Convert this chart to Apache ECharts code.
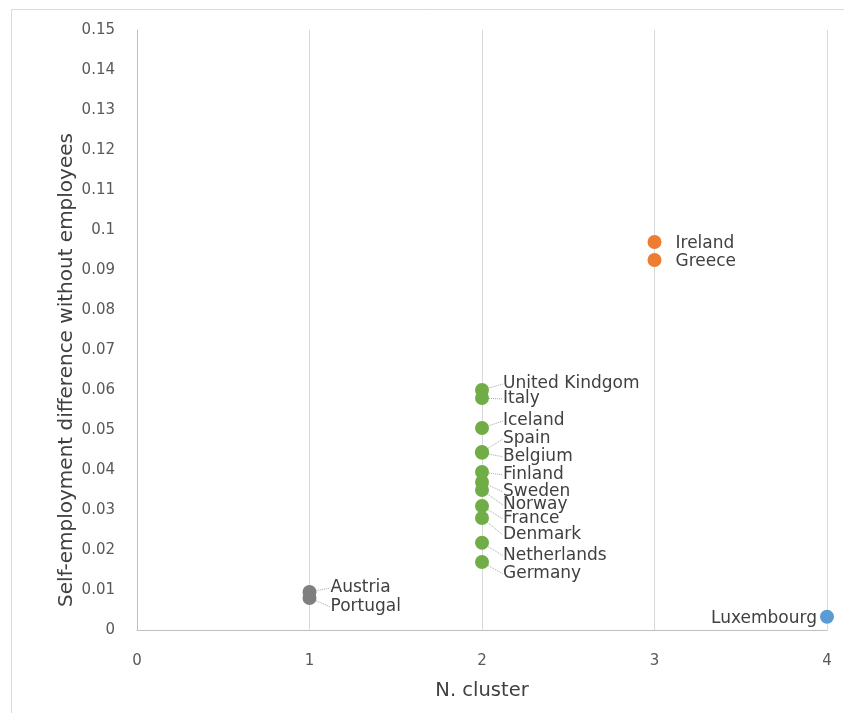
<!DOCTYPE html>
<html><head><meta charset="utf-8">
<script src="https://cdn.jsdelivr.net/npm/echarts@6/dist/echarts.min.js"></script>
<style>html,body{margin:0;padding:0;background:#fff}#c{width:844px;height:713px}</style>
</head><body><div id="c"></div>
<script>
const countries = ["Austria","Portugal","United Kindgom","Italy","Iceland","Spain","Belgium","Finland","Sweden","Norway","France","Denmark","Netherlands","Germany","Ireland","Greece","Luxembourg"];
const clusters  = [1,1,2,2,2,2,2,2,2,2,2,2,2,2,3,3,4];
const values    = [0.0095,0.008,0.060,0.058,0.0505,0.0445,0.0443,0.0395,0.037,0.035,0.031,0.028,0.0218,0.017,0.097,0.0925,0.0033];
const xTicks = [0,1,2,3,4];
const yMax = 0.15;
const xTitle = 'N. cluster';
const yTitle = 'Self-employment difference without employees';

// label vertical nudges (px), styling only
const labelNudge = {"Austria":-6,"Portugal":7,"United Kindgom":-8,"Italy":-1,"Iceland":-9,"Spain":-15,"Belgium":2,"Finland":1,"Sweden":8,"Norway":13,"France":11,"Denmark":15,"Netherlands":11,"Germany":10};
const baseNudge = 2;

const colors = {1:'#7F7F7F',2:'#70AD47',3:'#ED7D31',4:'#5B9BD5'};
const FONT = '"DejaVu Sans", "Noto Sans", sans-serif';

const series = [1,2,3,4].map(c => {
  const data = countries.map((n,i)=>({name:n, value:[clusters[i], values[i]]})).filter(d=>d.value[0]===c);
  return {
    type:'scatter',
    symbolSize: 14,
    itemStyle:{color:colors[c], opacity:1},
    data,
    label:{
      show:true,
      position: c===4 ? 'left' : 'right',
      distance: c===4 ? 3 : 14,
      formatter: p => p.name,
      color:'#404040',
      fontFamily: FONT,
      fontSize: 17
    },
    labelLine:{show: c<=2, lineStyle:{color:'#A6A6A6', type:'dotted', width:1}},
    labelLayout: p => {
      const nm = data[p.dataIndex].name;
      return {dy: (labelNudge[nm] || 0) + baseNudge};
    },
    emphasis:{disabled:true},
    z: 3
  };
});

const chart = echarts.init(document.getElementById('c'), null, {renderer:'canvas'});
chart.setOption({
  animation:false,
  backgroundColor:'#fff',
  graphic:[
    {type:'line', shape:{x1:11.5,y1:9.5,x2:844,y2:9.5}, style:{stroke:'#D9D9D9', lineWidth:1}, silent:true},
    {type:'line', shape:{x1:11.5,y1:9.5,x2:11.5,y2:713}, style:{stroke:'#D9D9D9', lineWidth:1}, silent:true},
    {type:'text', x:67, y:370, rotation:Math.PI/2, silent:true,
      style:{text:yTitle, fill:'#404040', font:'20px "DejaVu Sans", sans-serif', align:'center', verticalAlign:'middle'}}
  ],
  grid:{left:137, right:17, top:30, bottom:83},
  xAxis:{
    type:'value', min:0, max:4, interval:1,
    name:xTitle, nameLocation:'middle', nameGap:51,
    nameTextStyle:{color:'#404040', fontSize:19.5, fontFamily:FONT},
    axisLine:{show:true, lineStyle:{color:'#BFBFBF'}},
    axisTick:{show:false},
    axisLabel:{color:'#595959', fontSize:15, fontFamily:FONT, margin:24,
      formatter: v => xTicks.includes(v) ? String(v) : ''},
    splitLine:{show:true, lineStyle:{color:'#D9D9D9'}}
  },
  yAxis:{
    type:'value', min:0, max:yMax, interval:0.01,
    axisLine:{show:true, lineStyle:{color:'#BFBFBF'}},
    axisTick:{show:false},
    axisLabel:{color:'#595959', fontSize:15, fontFamily:FONT, margin:22,
      formatter: v => String(parseFloat(v.toFixed(2)))},
    splitLine:{show:false}
  },
  series
});
</script></body></html>
